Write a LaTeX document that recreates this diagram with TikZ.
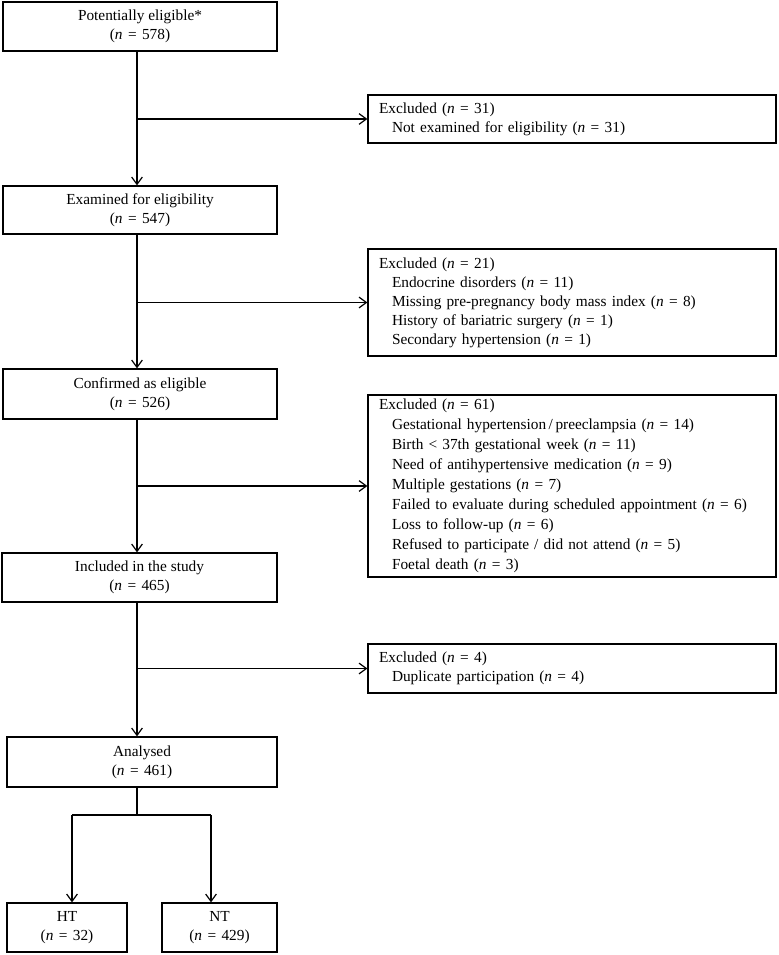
\documentclass[tikz,border=0pt]{standalone}
\usepackage{fontspec}
\setmainfont{Liberation Serif}
\usetikzlibrary{arrows.meta}
\newcommand{\nval}[1]{(\textit{n}\hspace{0.35em}=\hspace{0.35em}#1)}
\newcommand{\ind}{\hspace*{9.75pt}}
\begin{document}
\begin{tikzpicture}[x=0.75pt,y=-0.75pt,
  mainbox/.style={draw, line width=0.9pt, inner sep=0pt, align=center,
    minimum height=36.75pt, font=\fontsize{11.5}{14.25}\selectfont},
  exbox/.style={draw, line width=0.9pt, inner xsep=8.25pt, inner ysep=0pt,
    align=left, text width=289.5pt, font=\fontsize{11.5}{14.25}\selectfont},
  arr/.style={line width=0.9pt, -{Straight Barb[length=5.5pt,width=8pt,line width=0.9pt]}},
  ln/.style={line width=0.9pt}]
\useasboundingbox (0,0) rectangle (778,955);

% main column
\node[mainbox, minimum width=205.5pt] (b1) at (140,26.5) {Potentially eligible*\\\nval{578}};
\node[mainbox, minimum width=205.5pt, minimum height=36pt] (b2) at (140,210) {Examined for eligibility\\\nval{547}};
\node[mainbox, minimum width=205.5pt, minimum height=37.5pt] (b3) at (140,394) {Confirmed as eligible\\\nval{526}};
\node[mainbox, minimum width=206.25pt] (b4) at (139.5,577.5) {Included in the study\\\nval{465}};
\node[mainbox, minimum width=202.5pt, minimum height=37.5pt] (b5) at (142,762) {Analysed\\\nval{461}};
\node[mainbox, minimum width=90pt] (ht) at (67,927.5) {HT\\\nval{32}};
\node[mainbox, minimum width=86.25pt] (nt) at (219.5,927.5) {NT\\\nval{429}};

% exclusion boxes
\node[exbox, minimum height=36pt] (e1) at (572,119) {Excluded \nval{31}\\
\ind Not examined for eligibility \nval{31}};
\node[exbox, minimum height=80.25pt] (e2) at (572,302.5) {Excluded \nval{21}\\
\ind Endocrine disorders \nval{11}\\
\ind Missing pre-pregnancy body mass index \nval{8}\\
\ind History of bariatric surgery \nval{1}\\
\ind Secondary hypertension \nval{1}};
\node[exbox, minimum height=136.5pt, font=\fontsize{11.5}{15}\selectfont] (e3) at (572,486) {Excluded \nval{61}\\
\ind Gestational hypertension\,/\,preeclampsia \nval{14}\\
\ind Birth < 37th gestational week \nval{11}\\
\ind Need of antihypertensive medication \nval{9}\\
\ind Multiple gestations \nval{7}\\
\ind Failed to evaluate during scheduled appointment \nval{6}\\
\ind Loss to follow-up \nval{6}\\
\ind Refused to participate / did not attend \nval{5}\\
\ind Foetal death \nval{3}};
\node[exbox, minimum height=36.75pt] (e4) at (572,668.5) {Excluded \nval{4}\\
\ind Duplicate participation \nval{4}};

% junction coordinates on the main line
\coordinate (j1) at (137,119);
\coordinate (j2) at (137,302.5);
\coordinate (j3) at (137,486);
\coordinate (j4) at (137,668.5);
\coordinate (split) at (137,815);
\coordinate (sl) at (72,815);
\coordinate (sr) at (211,815);

% vertical arrows
\draw[arr] (j1 |- b1.south) -- (j1 |- b2.north);
\draw[arr] (j2 |- b2.south) -- (j2 |- b3.north);
\draw[arr] (j3 |- b3.south) -- (j3 |- b4.north);
\draw[arr] (j4 |- b4.south) -- (j4 |- b5.north);

% horizontal arrows to exclusions
\draw[arr] (j1) -- (e1.west);
\draw[arr] (j2) -- (e2.west);
\draw[arr] (j3) -- (e3.west);
\draw[arr] (j4) -- (e4.west);

% split to HT / NT
\draw[ln] (split |- b5.south) -- (split);
\draw[ln] (sl) -- (sr);
\draw[arr] (sl) -- (sl |- ht.north);
\draw[arr] (sr) -- (sr |- nt.north);
\end{tikzpicture}
\end{document}
